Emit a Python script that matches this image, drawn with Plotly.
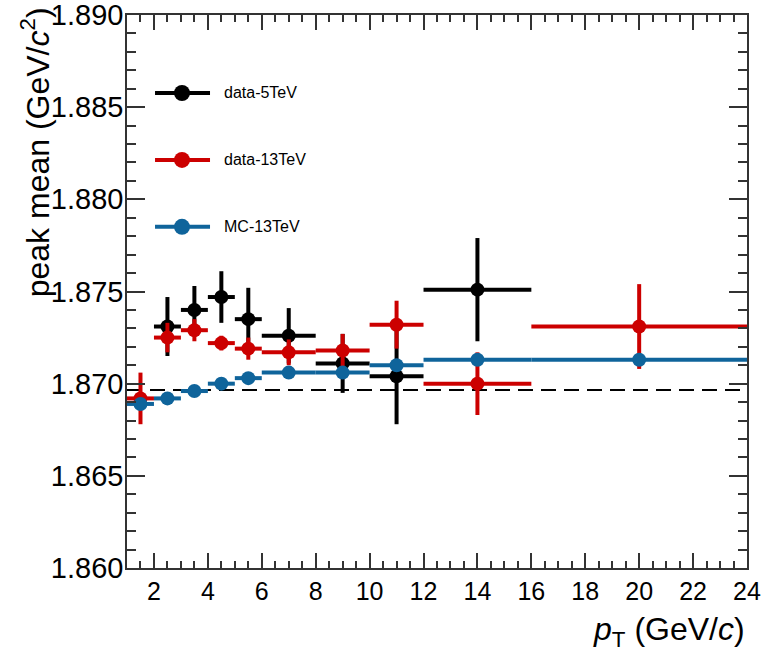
import plotly.graph_objects as go

# pT bin edges (GeV/c)
edges_13 = [1, 2, 3, 4, 5, 6, 8, 10, 12, 16, 24]
edges_5 = [2, 3, 4, 5, 6, 8, 10, 12, 16]

# fitted peak mean (GeV/c^2) and statistical uncertainties
mean_5tev = [1.8731, 1.8740, 1.8747, 1.8735, 1.8726, 1.8711, 1.8704, 1.8751]
err_5tev = [0.0016, 0.0013, 0.0014, 0.0017, 0.0015, 0.0016, 0.0026, 0.0028]

mean_13tev = [1.8692, 1.8725, 1.8729, 1.8722, 1.8719, 1.8717, 1.8718, 1.8732, 1.8700, 1.8731]
err_13tev = [0.0014, 0.0008, 0.0006, 0.0004, 0.0006, 0.0007, 0.0009, 0.0013, 0.0017, 0.0023]

mean_mc = [1.8689, 1.8692, 1.8696, 1.8700, 1.8703, 1.8706, 1.8706, 1.8710, 1.8713, 1.8713]
err_mc = [0.0001, 0.0001, 0.0001, 0.0001, 0.0001, 0.0001, 0.0001, 0.0001, 0.0001, 0.0001]

pdg_mass = 1.86966

# y axis range and major tick labels
y_lo, y_hi = 1.860, 1.890
y_ticks = [1.860, 1.865, 1.870, 1.875, 1.880, 1.885, 1.890]

series_names = ["data-5TeV", "data-13TeV", "MC-13TeV"]
series_colors = ["#000000", "#cc0000", "#0f649b"]

FONT = "Liberation Sans, Arial, Helvetica, sans-serif"
AXIS_COLOR = "#333333"


def centers(e):
    return [(a + b) / 2 for a, b in zip(e[:-1], e[1:])]


def halfwidths(e):
    return [(b - a) / 2 for a, b in zip(e[:-1], e[1:])]


fig = go.Figure()

series = [
    (edges_5, mean_5tev, err_5tev),
    (edges_13, mean_13tev, err_13tev),
    (edges_13, mean_mc, err_mc),
]

for (e, m, err), name, col in zip(series, series_names, series_colors):
    fig.add_trace(go.Scatter(
        x=centers(e), y=m, name=name, mode="markers",
        marker=dict(color=col, size=14, line=dict(width=0)),
        error_x=dict(type="data", array=halfwidths(e), color=col, thickness=4, width=0),
        error_y=dict(type="data", array=err, color=col, thickness=4, width=0),
        showlegend=False,
    ))

# PDG reference mass
fig.add_shape(type="line", xref="x", yref="y", x0=edges_13[0], x1=edges_13[-1],
              y0=pdg_mass, y1=pdg_mass, layer="below",
              line=dict(color="#000000", width=2, dash="15px,8px"))

# hand-placed legend in paper coordinates
leg_y = [0.859, 0.738, 0.617]
for yy, name, col in zip(leg_y, series_names, series_colors):
    fig.add_shape(type="line", xref="paper", yref="paper", x0=0.0452, x1=0.1339,
                  y0=yy, y1=yy, line=dict(color=col, width=4))
    fig.add_shape(type="circle", xref="paper", yref="paper",
                  xsizemode="pixel", ysizemode="pixel",
                  xanchor=0.0887, yanchor=yy, x0=-8, x1=8, y0=-8, y1=8,
                  fillcolor=col, line=dict(width=0))
    fig.add_annotation(xref="paper", yref="paper", x=0.1532, y=yy, text=name,
                       showarrow=False, xanchor="left", yanchor="middle",
                       font=dict(family=FONT, size=16, color="#000000"))

# axis titles
fig.add_annotation(xref="paper", yref="paper", x=-0.148, y=1.018,
                   text="peak mean (GeV/<i>c</i><sup>2</sup>)", textangle=-90,
                   showarrow=False, xanchor="center", yanchor="top",
                   font=dict(family=FONT, size=32, color="#000000"))
fig.add_annotation(xref="paper", yref="paper", x=1.0, y=-0.1157,
                   text="<i>p</i><sub>T</sub> (GeV/<i>c</i>)",
                   showarrow=False, xanchor="right", yanchor="middle",
                   font=dict(family=FONT, size=32, color="#000000"))

fig.update_layout(
    width=769, height=655,
    margin=dict(l=127, r=22, t=15, b=87, autoexpand=False),
    paper_bgcolor="white", plot_bgcolor="white",
    font=dict(family=FONT, color="#000000"),
    xaxis=dict(
        range=[edges_13[0], edges_13[-1]], tick0=0, dtick=2,
        ticks="inside", ticklen=15, tickwidth=1.5, tickcolor=AXIS_COLOR,
        minor=dict(dtick=0.5, ticks="inside", ticklen=7.5, tickwidth=1.5, tickcolor=AXIS_COLOR),
        showline=True, linecolor=AXIS_COLOR, linewidth=1.5, mirror="ticks",
        showgrid=False, zeroline=False, automargin=False,
        tickfont=dict(family=FONT, size=25, color="#000000"),
        ticklabelstandoff=0, ticklabeloverflow="allow",
    ),
    yaxis=dict(
        range=[y_lo, y_hi], tickmode="array", tickvals=y_ticks,
        ticktext=[f"{v:.3f}" for v in y_ticks],
        ticks="inside", ticklen=18, tickwidth=1.5, tickcolor=AXIS_COLOR,
        minor=dict(tick0=y_lo, dtick=0.001, ticks="inside", ticklen=9, tickwidth=1.5,
                   tickcolor=AXIS_COLOR),
        showline=True, linecolor=AXIS_COLOR, linewidth=1.5, mirror="ticks",
        showgrid=False, zeroline=False, automargin=False,
        tickfont=dict(family=FONT, size=29, color="#000000"),
        ticklabelstandoff=-4, ticklabeloverflow="allow",
    ),
)

fig.write_html("out.html")
